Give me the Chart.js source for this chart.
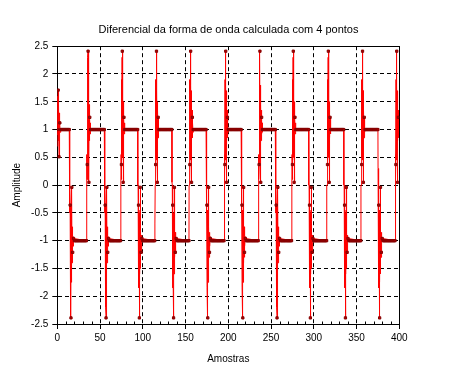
<!DOCTYPE html>
<html><head><meta charset="utf-8">
<script src="https://cdn.jsdelivr.net/npm/chart.js@4/dist/chart.umd.min.js"></script>
<style>html,body{margin:0;padding:0;background:#fff}canvas{display:block}</style>
</head><body>
<canvas id="c" width="457" height="370"></canvas>
<script>
const titleText = 'Diferencial da forma de onda calculada com 4 pontos';
const xAxisTitle = 'Amostras';
const yAxisTitle = 'Amplitude';
const xTickValues = [0, 50, 100, 150, 200, 250, 300, 350, 400];
const xTickLabels = ['0', '50', '100', '150', '200', '250', '300', '350', '400'];
const xMinorTicks = [10, 20, 30, 40, 60, 70, 80, 90, 110, 120, 130, 140, 160, 170, 180, 190, 210, 220, 230, 240, 260, 270, 280, 290, 310, 320, 330, 340, 360, 370, 380, 390];
const yTickValues = [-2.5, -2, -1.5, -1, -0.5, 0, 0.5, 1, 1.5, 2, 2.5];
const yTickLabels = ['-2.5', '-2', '-1.5', '-1', '-0.5', '0', '0.5', '1', '1.5', '2', '2.5'];

const sampleCount = 400;
const highLevel = 1;
const lowLevel = -1;
// edge positions (sample index of the spike)
const fallingEdges = [16, 57, 96, 136, 176, 217, 257, 296, 337, 377];
const risingEdges = [36, 76, 116, 156, 197, 237, 276, 317, 357, 397];
// level the trace first drops/rises to just before each edge
const fallPrecursor = [0, 0.5, 0, 0.05, 0, 0.2, 0.65, 0, 0, 0.3];
const risePrecursor = [0, -0.25, -0.7, 0, 0, -0.4, -0.85, 0, 0, -0.6];
// sampled (marker) values around each edge
const riseMarkOffsets = [-1, 0, 1, 2, 3];
const riseMarkValues = [0.37, 2.41, 0.05, 1.22, 1.0];
const fallMarkOffsets = [-1, 0, 1, 2, 3];
const fallMarkValues = [-0.36, -2.39, -0.04, -1.21, -0.96];
// fine trace around each edge
const riseShapeDx = [-1.5, -1.4, -1.25, -1.0, -0.85, -0.7, -0.55, -0.4, -0.2, 0, 0.15, 0.3, 0.45, 0.6, 0.75, 0.9, 1.0, 1.2, 1.4, 1.6, 1.8, 2.0, 2.25, 2.5, 2.75, 3.0];
const riseShapeY  = [0.0, 0.55, 0.1, 0.37, 1.9, 0.5, 1.75, 0.45, 2.3, 2.41, 0.6, 1.8, 0.55, 1.7, 0.5, 1.5, 0.05, 1.45, 0.8, 1.35, 0.85, 1.22, 0.92, 1.12, 0.95, 1.0];
const fallShapeDx = [-1.5, -1.4, -1.25, -1.0, -0.85, -0.7, -0.55, -0.4, -0.2, 0, 0.15, 0.3, 0.45, 0.6, 0.75, 0.9, 1.0, 1.2, 1.4, 1.6, 1.8, 2.0, 2.25, 2.5, 2.75, 3.0];
const fallShapeY  = [0.0, -0.5, -0.1, -0.36, -1.85, -0.45, -1.7, -0.5, -2.2, -2.39, -0.55, -1.75, -0.5, -1.6, -0.45, -1.5, -0.04, -1.4, -0.75, -1.3, -0.85, -1.21, -0.9, -1.1, -0.93, -0.96];
// start of record
const startMarkX = [1, 2, 3, 4];
const startMarkY = [1.71, 0.51, 1.12, 1.0];
const startShapeX = [0, 0.2, 0.4, 0.6, 0.8, 1.0, 1.3, 1.6, 2.0, 2.3, 2.6, 3.0, 3.5, 4.0];
const startShapeY = [0.7, 1.5, 0.75, 1.6, 0.9, 1.71, 0.8, 1.45, 0.51, 1.3, 0.85, 1.12, 0.95, 1.0];

// ---- build datasets from the tables ----
const events = [];
fallingEdges.forEach((e, i) => events.push({x: e, from: highLevel, to: lowLevel, p: fallPrecursor[i], mo: fallMarkOffsets, mv: fallMarkValues, sdx: fallShapeDx, sy: fallShapeY}));
risingEdges.forEach((e, i) => events.push({x: e, from: lowLevel, to: highLevel, p: risePrecursor[i], mo: riseMarkOffsets, mv: riseMarkValues, sdx: riseShapeDx, sy: riseShapeY}));
events.sort((a, b) => a.x - b.x);

const markVals = new Array(sampleCount).fill(highLevel);
events.forEach((ev, k) => {
  const next = events[k + 1] ? events[k + 1].x - 2 : sampleCount - 1;
  for (let i = ev.x + 4; i <= next && i < sampleCount; i++) markVals[i] = ev.to;
  ev.mo.forEach((o, j) => { const i = ev.x + o; if (i >= 0 && i < sampleCount) markVals[i] = ev.mv[j]; });
});
startMarkX.forEach((x, j) => { markVals[x] = startMarkY[j]; });
const markerData = markVals.map((v, i) => ({x: i, y: v}));

const lineData = [];
startShapeX.forEach((x, j) => lineData.push({x: x, y: startShapeY[j]}));
events.forEach(ev => {
  lineData.push({x: ev.x - 2.0, y: ev.from});
  lineData.push({x: ev.x - 1.85, y: ev.p});
  ev.sdx.forEach((d, j) => lineData.push({x: ev.x + d, y: ev.sy[j]}));
});
const lineClipped = lineData.filter(p => p.x <= sampleCount - 1);

const boxPlugin = {
  id: 'box',
  beforeDatasetsDraw(chart) {
    const {ctx, chartArea: a, scales} = chart;
    ctx.save();
    ctx.strokeStyle = '#000';
    ctx.lineWidth = 1;
    ctx.setLineDash([]);
    ctx.strokeRect(Math.round(a.left) + 0.5, Math.round(a.top) + 0.5, Math.round(a.right) - Math.round(a.left), Math.round(a.bottom) - Math.round(a.top));
    ctx.beginPath();
    const yb = Math.round(a.bottom) + 0.5;
    xMinorTicks.forEach(v => {
      const px = Math.round(scales.x.getPixelForValue(v)) + 0.5;
      ctx.moveTo(px, yb);
      ctx.lineTo(px, yb - 3);
    });
    ctx.stroke();
    ctx.restore();
  }
};

const font10 = {family: 'Liberation Sans', size: 10};
new Chart(document.getElementById('c'), {
  type: 'line',
  data: {
    datasets: [
      {
        label: 'amostras',
        data: markerData,
        showLine: false,
        pointStyle: 'rect',
        pointRadius: 1.6,
        pointBorderWidth: 1,
        pointBackgroundColor: '#b00000',
        pointBorderColor: '#850000'
      },
      {
        label: 'diferencial',
        data: lineClipped,
        borderColor: '#ff0000',
        borderWidth: 1,
        pointRadius: 0,
        tension: 0,
        fill: false
      }
    ]
  },
  options: {
    responsive: false,
    animation: false,
    devicePixelRatio: 1,
    layout: {padding: {left: 0, right: 0, top: 0, bottom: 0}},
    plugins: {
      legend: {display: false},
      tooltip: {enabled: false},
      title: {display: true, text: titleText, color: '#000', font: {family: 'Liberation Sans', size: 11, weight: 'normal'}, padding: {top: 23, bottom: 10}}
    },
    scales: {
      x: {
        type: 'linear', min: 0, max: 400,
        afterBuildTicks: s => { s.ticks = xTickValues.map(v => ({value: v})); },
        afterFit: s => { s.height = 46; },
        ticks: {callback: (v, i) => xTickLabels[i], color: '#000', font: font10, padding: 3, maxRotation: 0, autoSkip: false},
        grid: {color: '#000', lineWidth: 1, tickLength: 5, drawTicks: true},
        border: {display: true, color: '#000', width: 1, dash: [4, 3]},
        title: {display: true, text: xAxisTitle, color: '#000', font: font10, padding: {top: 0, bottom: 5}}
      },
      y: {
        type: 'linear', min: -2.5, max: 2.5,
        afterBuildTicks: s => { s.ticks = yTickValues.map(v => ({value: v})); },
        afterFit: s => { s.width = 57.3; },
        ticks: {callback: (v, i) => yTickLabels[i], color: '#000', font: font10, padding: 4, autoSkip: false},
        grid: {color: '#000', lineWidth: 1, tickLength: 5, drawTicks: true},
        border: {display: true, color: '#000', width: 1, dash: [4, 3]},
        title: {display: true, text: yAxisTitle, color: '#000', font: font10, padding: {top: 11, bottom: 0}}
      },
      y2: {
        type: 'linear', position: 'right', min: 0, max: 1,
        afterFit: s => { s.width = 57.7; },
        ticks: {display: false},
        grid: {display: false, drawTicks: false},
        border: {display: false}
      }
    }
  },
  plugins: [boxPlugin]
});
</script>
</body></html>
